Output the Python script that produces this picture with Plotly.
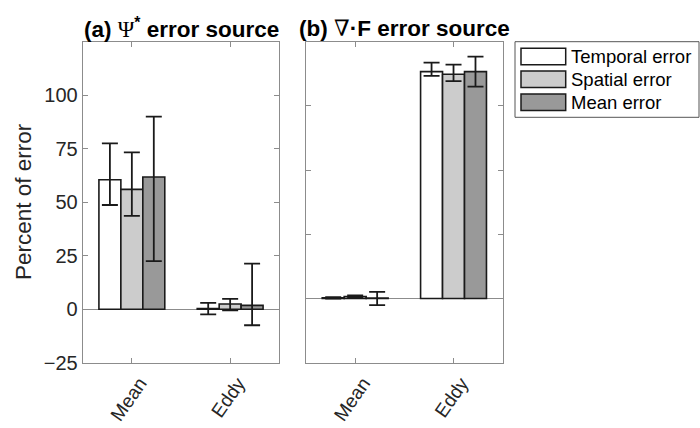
import plotly.graph_objects as go
from plotly.subplots import make_subplots

categories = ["Mean", "Eddy"]
series_names = ["Temporal error", "Spatial error", "Mean error"]
series_colors = ["#ffffff", "#cccccc", "#999999"]

# panel (a): Psi* error source
psi_values = [[60.5, 0.3], [56.0, 2.4], [61.8, 1.8]]
psi_err_plus = [[17.0, 2.7], [17.3, 2.4], [28.2, 19.5]]
psi_err_minus = [[11.8, 2.7], [12.4, 2.9], [39.3, 9.3]]

# panel (b): div F error source
divf_values = [[0.3, 106.0], [0.9, 104.8], [0.2, 106.0]]
divf_err_plus = [[0.3, 4.2], [0.6, 4.5], [2.9, 7.0]]
divf_err_minus = [[0.3, 2.0], [0.6, 3.2], [3.3, 7.0]]

FONT = "Liberation Sans, Arial, Helvetica, sans-serif"
TEXT = "#262626"
AXIS = "#8c8c8c"

fig = make_subplots(rows=1, cols=2)

for col, (vals, ep, em) in enumerate(
    [(psi_values, psi_err_plus, psi_err_minus),
     (divf_values, divf_err_plus, divf_err_minus)], start=1):
    for i, name in enumerate(series_names):
        fig.add_trace(
            go.Bar(
                x=categories,
                y=vals[i],
                name=name,
                showlegend=False,
                marker={"color": series_colors[i],
                        "line": {"color": "#1a1a1a", "width": 1.6}},
                error_y={"type": "data", "symmetric": False,
                         "array": ep[i], "arrayminus": em[i],
                         "color": "#1a1a1a", "thickness": 1.8, "width": 8},
            ),
            row=1, col=col,
        )

W, H = 700, 428
px = lambda v: v / W
py = lambda v: 1 - v / H

axis_common = dict(
    showline=True, mirror="ticks", linecolor=AXIS, linewidth=1,
    ticks="inside", ticklen=5, tickcolor=AXIS, showgrid=False,
    automargin=False,
    tickfont={"family": FONT, "size": 20, "color": TEXT},
)

fig.update_xaxes(**axis_common)
fig.update_xaxes(tickangle=-55, range=[-0.5, 1.5], zeroline=False,
                 ticklabelshift=8, ticklabelstandoff=1,
                 tickfont={"family": FONT, "size": 19, "color": TEXT})
fig.update_yaxes(**axis_common, zeroline=True, zerolinecolor=AXIS,
                 zerolinewidth=1)

fig.update_layout(
    xaxis={"domain": [px(82.7), px(279.3)]},
    xaxis2={"domain": [px(306), px(502.7)]},
    yaxis={"domain": [py(362.7), py(41.7)], "range": [-25, 125],
           "tickvals": [-25, 0, 25, 50, 75, 100]},
    yaxis2={"domain": [py(362.7), py(41.7)], "range": [-30, 120],
            "tickvals": [0, 30, 60, 90, 120], "showticklabels": False},
)

title_font = {"family": FONT, "size": 22.5, "color": "#000000"}
serif = "font-family:Liberation Serif, DejaVu Serif, serif"
fig.add_annotation(
    text=f"<b>(a) </b><span style='{serif}'>Ψ</span><sup><b>*</b></sup><b> error source</b>",
    x=(px(82.7) + px(279.3)) / 2, y=py(28), xref="paper", yref="paper",
    xanchor="center", yanchor="middle", showarrow=False, font=title_font,
)
fig.add_annotation(
    text=f"<b>(b) </b><span style='{serif}'>∇</span><b>·F error source</b>",
    x=(px(306) + px(502.7)) / 2, y=py(28), xref="paper", yref="paper",
    xanchor="center", yanchor="middle", showarrow=False, font=title_font,
)
fig.add_annotation(
    text="Percent of error", textangle=-90,
    x=px(23), y=py(202), xref="paper", yref="paper",
    xanchor="center", yanchor="middle", showarrow=False,
    font={"family": FONT, "size": 22.5, "color": TEXT},
)

# legend box drawn by hand (large swatches like the original)
fig.add_shape(type="rect", xref="paper", yref="paper",
              x0=px(515), x1=px(699), y0=py(117.3), y1=py(41.7),
              line={"color": "#555555", "width": 1}, fillcolor="white")
row_tops = [48.3, 71.0, 94.0]
for i, name in enumerate(series_names):
    top = row_tops[i]
    fig.add_shape(type="rect", xref="paper", yref="paper",
                  x0=px(521), x1=px(565.7), y0=py(top + 16.5), y1=py(top),
                  line={"color": "#1a1a1a", "width": 1.5},
                  fillcolor=series_colors[i])
    fig.add_annotation(text=name, x=px(569), y=py(top + 8.2),
                       xref="paper", yref="paper", xanchor="left",
                       yanchor="middle", showarrow=False,
                       font={"family": FONT, "size": 18.5, "color": "#000000"})

fig.update_layout(
    template="none",
    width=W, height=H,
    margin={"l": 0, "r": 0, "t": 0, "b": 0, "pad": 0},
    barmode="group", bargap=0.33, bargroupgap=0,
    plot_bgcolor="white", paper_bgcolor="white",
    font={"family": FONT, "color": TEXT},
)

fig.write_html("out.html", config={"displayModeBar": False},
               post_script="document.body.style.margin='0';")
